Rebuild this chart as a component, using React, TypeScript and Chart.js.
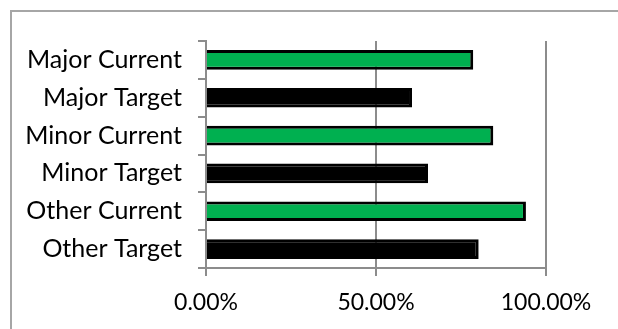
import React, { useEffect, useRef } from "react";
import { Chart, registerables } from "chart.js";

Chart.register(...registerables);

const categories = [
  "Major Current",
  "Major Target",
  "Minor Current",
  "Minor Target",
  "Other Current",
  "Other Target",
];
const values = [78.6, 60.6, 84.5, 65.3, 94.1, 80.2];
const barColors = ["#00B050", "#000000", "#00B050", "#000000", "#00B050", "#000000"];
const xTickValues = [0, 50, 100];

const FONT = "Lato";
const GRAY = "#8c8c8c";

const frame = {
  id: "frame",
  beforeDraw(chart: any) {
    const ctx = chart.ctx;
    ctx.save();
    ctx.fillStyle = "#ffffff";
    ctx.fillRect(0, 0, chart.width, chart.height);
    ctx.strokeStyle = "#a6a6a6";
    ctx.lineWidth = 2;
    ctx.strokeRect(11, 11, 800, 500);
    ctx.restore();
  },
};

export default function App() {
  const ref = useRef<HTMLCanvasElement | null>(null);
  useEffect(() => {
    const chart = new Chart(ref.current as HTMLCanvasElement, {
      type: "bar",
      data: {
        labels: categories,
        datasets: [
          {
            data: values,
            backgroundColor: barColors,
            borderColor: "#000000",
            borderWidth: 3,
            barPercentage: 0.52,
            categoryPercentage: 1.0,
          },
        ],
      },
      options: {
        indexAxis: "y",
        animation: false,
        responsive: false,
        maintainAspectRatio: false,
        layout: { padding: { left: 0, right: 72, top: 41, bottom: 0 } },
        plugins: { legend: { display: false }, tooltip: { enabled: false } },
        scales: {
          x: {
            min: 0,
            max: 100,
            afterBuildTicks: (scale: any) => {
              scale.ticks = xTickValues.map((v) => ({ value: v }));
            },
            afterFit: (scale: any) => {
              scale.height = 61;
            },
            ticks: {
              callback: (v: any) => Number(v).toFixed(2) + "%",
              color: "#000000",
              font: { family: FONT, size: 23 },
              padding: 13,
              maxRotation: 0,
            },
            grid: { color: GRAY, lineWidth: 2, tickLength: 8 },
            border: { color: GRAY, width: 2 },
          },
          y: {
            afterFit: (scale: any) => {
              scale.width = 206;
            },
            ticks: {
              color: "#000000",
              font: { family: FONT, size: 25 },
              padding: 16,
            },
            grid: { drawOnChartArea: false, color: GRAY, lineWidth: 2, tickLength: 8, offset: true },
            border: { color: GRAY, width: 2 },
          },
        },
      },
      plugins: [frame],
    });
    return () => chart.destroy();
  }, []);
  return (
    <div style={{ position: "fixed", left: 0, top: 0, width: 618, height: 329 }}>
      <canvas ref={ref} width={618} height={329} style={{ display: "block" }} />
    </div>
  );
}
